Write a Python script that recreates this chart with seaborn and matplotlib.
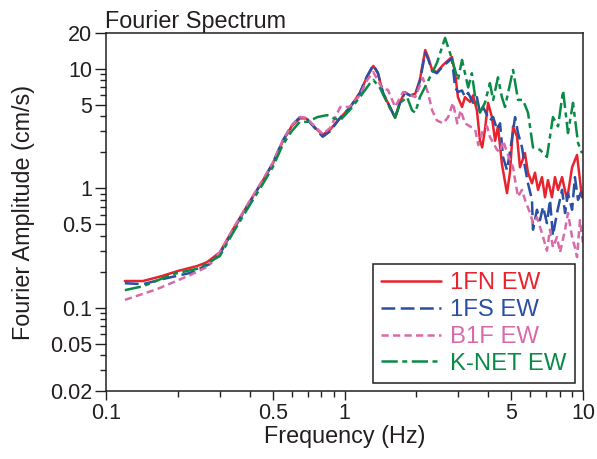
import matplotlib
matplotlib.use("Agg")
import matplotlib.pyplot as plt
from matplotlib.lines import Line2D
from matplotlib.ticker import FixedLocator, LogLocator, NullFormatter, FixedFormatter
import numpy as np
import pandas as pd
import seaborn as sns

# ---- spectra (frequency in Hz, Fourier amplitude in cm/s) ----
freq_1fn = [0.120, 0.143, 0.172, 0.199, 0.241, 0.265, 0.300, 0.340, 0.400, 0.450,
            0.500, 0.550, 0.600, 0.650, 0.690, 0.750, 0.810, 0.870, 0.960, 1.050,
            1.160, 1.240, 1.320, 1.380, 1.450, 1.550, 1.630, 1.710, 1.790, 1.880,
            1.980, 2.070, 2.180, 2.240, 2.330, 2.440, 2.590, 2.820, 2.910, 2.990,
            3.110, 3.200, 3.360, 3.460, 3.590, 3.700, 3.780, 3.880, 4.000, 4.150,
            4.280, 4.400, 4.570, 4.800, 4.940, 5.090, 5.290, 5.440, 5.710, 5.880,
            6.110, 6.290, 6.480, 6.730, 6.930, 7.130, 7.410, 7.630, 7.860, 8.170,
            8.570, 9.000, 9.440, 9.900]
amp_1fn = [0.167, 0.167, 0.184, 0.202, 0.223, 0.240, 0.29, 0.45, 0.77, 1.12,
           1.6, 2.45, 3.3, 3.85, 3.85, 3.25, 2.8, 3.1, 3.9, 4.7,
           6.3, 8.5, 10.6, 9.2, 6.3, 4.8, 3.9, 5.3, 6.4, 6.0,
           6.2, 8.1, 14.4, 12.6, 9.8, 9.4, 10.8, 12.6, 9.2, 5.8,
           4.8, 5.8, 5.3, 6.0, 4.5, 2.5, 2.2, 3.1, 5.2, 3.95,
           2.5, 3.3, 1.6, 0.91, 1.35, 3.3, 2.7, 1.5, 1.97, 1.35,
           1.1, 1.35, 0.97, 1.24, 0.84, 1.17, 0.84, 1.24, 0.97, 1.24,
           0.80, 1.5, 1.9, 0.84]

freq_1fs = [0.120, 0.143, 0.172, 0.225, 0.255, 0.273, 0.300, 0.340, 0.400, 0.450,
            0.500, 0.550, 0.600, 0.650, 0.690, 0.750, 0.810, 0.870, 0.960, 1.050,
            1.160, 1.240, 1.320, 1.380, 1.450, 1.550, 1.630, 1.710, 1.790, 1.880,
            1.980, 2.070, 2.180, 2.240, 2.330, 2.440, 2.590, 2.820, 2.910, 2.990,
            3.110, 3.200, 3.300, 3.460, 3.590, 3.700, 3.810, 3.960, 4.070, 4.200,
            4.360, 4.490, 4.620, 4.800, 4.990, 5.190, 5.340, 5.550, 5.710, 5.880,
            6.110, 6.170, 6.410, 6.600, 6.800, 7.060, 7.270, 7.480, 7.780, 8.170,
            8.410, 8.650, 9.000, 9.250, 9.530, 9.900]
amp_1fs = [0.160, 0.157, 0.173, 0.195, 0.219, 0.232, 0.28, 0.44, 0.76, 1.12,
           1.62, 2.5, 3.35, 3.95, 3.9, 3.2, 2.7, 3.0, 3.9, 4.7,
           6.3, 8.6, 10.8, 9.3, 6.3, 4.8, 3.9, 5.2, 6.3, 6.0,
           6.0, 7.9, 13.6, 12.2, 9.6, 9.2, 10.6, 12.2, 7.0, 6.4,
           6.6, 5.8, 6.3, 5.2, 5.8, 4.3, 4.8, 4.1, 3.7, 3.95,
           3.1, 3.5, 1.83, 1.42, 2.3, 3.95, 2.9, 2.2, 1.5, 1.1,
           0.80, 0.45, 0.66, 0.54, 0.70, 0.51, 0.80, 0.40, 0.62, 0.97,
           0.62, 0.91, 0.66, 1.24, 0.80, 0.97]

freq_b1f = [0.120, 0.164, 0.225, 0.265, 0.281, 0.300, 0.340, 0.400, 0.450, 0.500,
            0.550, 0.600, 0.650, 0.690, 0.750, 0.810, 0.870, 0.960, 1.050, 1.160,
            1.240, 1.320, 1.450, 1.520, 1.630, 1.760, 1.980, 2.130, 2.240, 2.330,
            2.440, 2.590, 2.720, 2.850, 2.970, 3.070, 3.200, 3.360, 3.530, 3.640,
            3.810, 3.960, 4.070, 4.360, 4.490, 4.620, 4.940, 5.090, 5.190, 5.340,
            5.550, 5.710, 6.000, 6.170, 6.410, 6.730, 7.060, 7.270, 7.480, 7.780,
            8.010, 8.410, 8.650, 9.000, 9.250, 9.440, 9.710, 10.00]
amp_b1f = [0.116, 0.143, 0.187, 0.219, 0.25, 0.29, 0.45, 0.78, 1.14, 1.63,
           2.5, 3.35, 3.95, 3.9, 3.3, 2.85, 3.2, 4.8, 4.8, 6.0,
           8.0, 9.4, 6.7, 6.7, 4.8, 6.4, 5.8, 8.4, 6.3, 4.5,
           3.7, 3.5, 3.95, 5.2, 3.5, 4.5, 3.5, 3.3, 3.1, 2.3,
           3.1, 3.3, 2.7, 2.1, 2.0, 2.5, 1.72, 1.5, 1.17, 0.85,
           0.97, 0.80, 0.62, 0.51, 0.57, 0.42, 0.30, 0.45, 0.32, 0.39,
           0.29, 0.45, 0.62, 0.39, 0.32, 0.265, 0.54, 0.35]

freq_knet = [0.120, 0.143, 0.191, 0.248, 0.265, 0.300, 0.340, 0.400, 0.450, 0.500,
             0.550, 0.600, 0.650, 0.700, 0.770, 0.845, 0.890, 0.957, 1.050, 1.160,
             1.280, 1.320, 1.410, 1.510, 1.630, 1.710, 1.830, 1.920, 1.980, 2.070,
             2.280, 2.440, 2.640, 2.770, 2.850, 2.990, 3.110, 3.200, 3.300, 3.420,
             3.530, 3.700, 3.880, 4.070, 4.200, 4.400, 4.570, 4.710, 4.850, 5.090,
             5.340, 5.600, 5.880, 6.170, 6.600, 7.060, 7.480, 7.860, 8.250, 8.650,
             9.080, 9.530, 9.900]
amp_knet = [0.140, 0.151, 0.191, 0.214, 0.236, 0.27, 0.42, 0.72, 1.05, 1.5,
            2.3, 3.0, 3.6, 3.6, 3.95, 4.1, 3.9, 3.7, 4.5, 5.8,
            7.6, 8.1, 6.9, 5.2, 3.9, 5.2, 5.8, 4.5, 4.3, 5.8,
            8.5, 11.2, 18.2, 13.6, 11.2, 8.1, 11.9, 9.2, 7.0, 9.2,
            5.8, 4.3, 5.2, 7.6, 5.5, 8.5, 5.8, 4.8, 6.3, 9.8,
            5.5, 5.5, 4.3, 2.2, 2.1, 1.83, 3.95, 3.3, 6.6, 2.9,
            5.2, 2.4, 1.97]

records = ["1FN EW", "1FS EW", "B1F EW", "K-NET EW"]
freq_sets = [freq_1fn, freq_1fs, freq_b1f, freq_knet]
amp_sets = [amp_1fn, amp_1fs, amp_b1f, amp_knet]

colors = {"1FN EW": "#e8232d", "1FS EW": "#2a4fa3",
          "B1F EW": "#d96aaa", "K-NET EW": "#0a8a47"}
dash_styles = {"1FN EW": "", "1FS EW": (5.5, 2.2),
               "B1F EW": (2.9, 1.7), "K-NET EW": (6.5, 1.8, 2.0, 1.8)}

df = pd.concat(
    [pd.DataFrame({"freq": f, "amp": a, "record": r})
     for r, f, a in zip(records, freq_sets, amp_sets)],
    ignore_index=True)

ink = "#231f20"
sns.set_theme(style="white")
plt.rcParams["font.family"] = ["Liberation Sans", "DejaVu Sans"]
plt.rcParams["text.color"] = ink
plt.rcParams["axes.labelcolor"] = ink
plt.rcParams["xtick.color"] = ink
plt.rcParams["ytick.color"] = ink

fig = plt.figure(figsize=(5.97, 4.59), dpi=100)
ax = fig.add_axes([106 / 597, 1 - 391 / 459, 477 / 597, 358 / 459])

lw = 1.8
sns.lineplot(data=df, x="freq", y="amp", hue="record", style="record",
             hue_order=records, style_order=records,
             palette=colors, dashes=dash_styles, linewidth=lw,
             estimator=None, sort=False, legend=False, ax=ax)

ax.set_xscale("log")
ax.set_yscale("log")
ax.set_xlim(0.1, 10)
ax.set_ylim(0.02, 20)

xt = [0.1, 0.5, 1, 5, 10]
yt = [0.02, 0.05, 0.1, 0.5, 1, 5, 10, 20]
ax.xaxis.set_major_locator(FixedLocator(xt))
ax.xaxis.set_major_formatter(FixedFormatter(["0.1", "0.5", "1", "5", "10"]))
ax.xaxis.set_minor_locator(LogLocator(base=10, subs=np.arange(2, 10), numticks=20))
ax.xaxis.set_minor_formatter(NullFormatter())
ax.yaxis.set_major_locator(FixedLocator(yt))
ax.yaxis.set_major_formatter(FixedFormatter(["0.02", "0.05", "0.1", "0.5", "1", "5", "10", "20"]))
ax.yaxis.set_minor_locator(LogLocator(base=10, subs=np.arange(2, 10), numticks=20))
ax.yaxis.set_minor_formatter(NullFormatter())

ax.tick_params(axis="both", which="both", direction="out", width=1.0,
               bottom=True, left=True, top=False, right=False)
ax.tick_params(axis="x", which="major", length=6.5, labelsize=15.5, pad=2)
ax.tick_params(axis="y", which="major", length=8, labelsize=15.5, pad=2)
ax.tick_params(axis="both", which="minor", length=4.5)

for s in ax.spines.values():
    s.set_color(ink)
    s.set_linewidth(1.1)

ax.set_xlabel("Frequency (Hz)", fontsize=16.8, labelpad=1)
ax.set_ylabel("Fourier Amplitude (cm/s)", fontsize=16.8, labelpad=11)
ax.set_title("Fourier Spectrum", loc="left", fontsize=16.8, pad=3, x=-0.002)

handles = []
for r in records:
    d = dash_styles[r]
    if d:
        h = Line2D([], [], color=colors[r], lw=lw, dashes=d)
    else:
        h = Line2D([], [], color=colors[r], lw=lw, linestyle="-")
    handles.append(h)
leg = ax.legend(handles, records, loc="lower right", fontsize=17.2,
                labelcolor="linecolor", frameon=True, fancybox=False,
                framealpha=1, edgecolor=ink, handlelength=2.5,
                handletextpad=0.4, labelspacing=0.2, borderpad=0.35,
                borderaxespad=0.33)
leg.get_frame().set_linewidth(1.1)

fig.savefig("out.png", dpi=100, facecolor="white")
